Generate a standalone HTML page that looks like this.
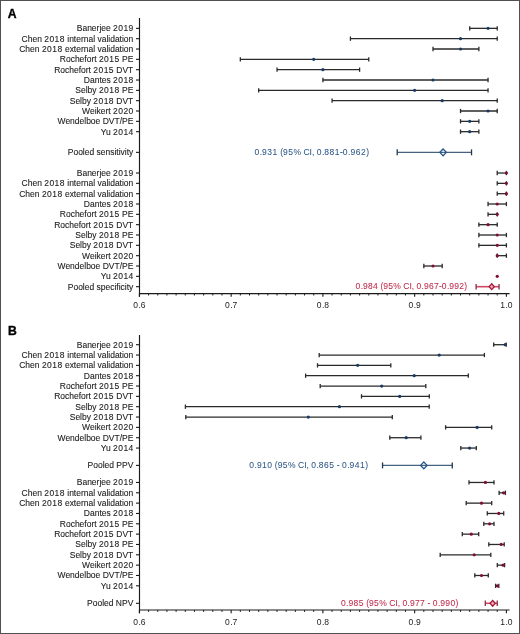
<!DOCTYPE html>
<html><head><meta charset="utf-8"><title>Forest plot</title>
<style>
html,body{margin:0;padding:0;background:#fff;}
body{width:520px;height:634px;overflow:hidden;}
svg{display:block;will-change:transform;}
svg text{font-family:"Liberation Sans", sans-serif;}
</style></head>
<body>
<svg width="520" height="634" viewBox="0 0 520 634">
<rect x="0" y="0" width="520" height="634" fill="#fff"/>
<rect x="0.5" y="0.5" width="519" height="633" fill="none" stroke="#505050" stroke-width="1"/>
<text x="7.75" y="17.75" font-size="12.2" font-weight="bold" fill="#000" stroke="#000" stroke-width="0.35">A</text>
<line x1="139.5" y1="18.00" x2="139.5" y2="296.80" stroke="#1a1a1a" stroke-width="1.15"/>
<line x1="139" y1="293.60" x2="509.6" y2="293.60" stroke="#1a1a1a" stroke-width="1.2"/>
<line x1="139.40" y1="293.60" x2="139.40" y2="296.80" stroke="#1a1a1a" stroke-width="1.1"/>
<text x="139.62" y="308.20" text-anchor="middle" font-size="8.5" fill="#222"><tspan letter-spacing="0.45">0</tspan>.<tspan letter-spacing="0.45">6</tspan></text>
<line x1="148.58" y1="293.60" x2="148.58" y2="295.50" stroke="#1a1a1a" stroke-width="1"/>
<line x1="157.75" y1="293.60" x2="157.75" y2="295.50" stroke="#1a1a1a" stroke-width="1"/>
<line x1="166.93" y1="293.60" x2="166.93" y2="295.50" stroke="#1a1a1a" stroke-width="1"/>
<line x1="176.10" y1="293.60" x2="176.10" y2="295.50" stroke="#1a1a1a" stroke-width="1"/>
<line x1="185.28" y1="293.60" x2="185.28" y2="295.50" stroke="#1a1a1a" stroke-width="1"/>
<line x1="194.45" y1="293.60" x2="194.45" y2="295.50" stroke="#1a1a1a" stroke-width="1"/>
<line x1="203.62" y1="293.60" x2="203.62" y2="295.50" stroke="#1a1a1a" stroke-width="1"/>
<line x1="212.80" y1="293.60" x2="212.80" y2="295.50" stroke="#1a1a1a" stroke-width="1"/>
<line x1="221.97" y1="293.60" x2="221.97" y2="295.50" stroke="#1a1a1a" stroke-width="1"/>
<line x1="231.15" y1="293.60" x2="231.15" y2="296.80" stroke="#1a1a1a" stroke-width="1.1"/>
<text x="231.37" y="308.20" text-anchor="middle" font-size="8.5" fill="#222"><tspan letter-spacing="0.45">0</tspan>.<tspan letter-spacing="0.45">7</tspan></text>
<line x1="240.32" y1="293.60" x2="240.32" y2="295.50" stroke="#1a1a1a" stroke-width="1"/>
<line x1="249.50" y1="293.60" x2="249.50" y2="295.50" stroke="#1a1a1a" stroke-width="1"/>
<line x1="258.68" y1="293.60" x2="258.68" y2="295.50" stroke="#1a1a1a" stroke-width="1"/>
<line x1="267.85" y1="293.60" x2="267.85" y2="295.50" stroke="#1a1a1a" stroke-width="1"/>
<line x1="277.03" y1="293.60" x2="277.03" y2="295.50" stroke="#1a1a1a" stroke-width="1"/>
<line x1="286.20" y1="293.60" x2="286.20" y2="295.50" stroke="#1a1a1a" stroke-width="1"/>
<line x1="295.38" y1="293.60" x2="295.38" y2="295.50" stroke="#1a1a1a" stroke-width="1"/>
<line x1="304.55" y1="293.60" x2="304.55" y2="295.50" stroke="#1a1a1a" stroke-width="1"/>
<line x1="313.73" y1="293.60" x2="313.73" y2="295.50" stroke="#1a1a1a" stroke-width="1"/>
<line x1="322.90" y1="293.60" x2="322.90" y2="296.80" stroke="#1a1a1a" stroke-width="1.1"/>
<text x="323.13" y="308.20" text-anchor="middle" font-size="8.5" fill="#222"><tspan letter-spacing="0.45">0</tspan>.<tspan letter-spacing="0.45">8</tspan></text>
<line x1="332.07" y1="293.60" x2="332.07" y2="295.50" stroke="#1a1a1a" stroke-width="1"/>
<line x1="341.25" y1="293.60" x2="341.25" y2="295.50" stroke="#1a1a1a" stroke-width="1"/>
<line x1="350.42" y1="293.60" x2="350.42" y2="295.50" stroke="#1a1a1a" stroke-width="1"/>
<line x1="359.60" y1="293.60" x2="359.60" y2="295.50" stroke="#1a1a1a" stroke-width="1"/>
<line x1="368.77" y1="293.60" x2="368.77" y2="295.50" stroke="#1a1a1a" stroke-width="1"/>
<line x1="377.95" y1="293.60" x2="377.95" y2="295.50" stroke="#1a1a1a" stroke-width="1"/>
<line x1="387.12" y1="293.60" x2="387.12" y2="295.50" stroke="#1a1a1a" stroke-width="1"/>
<line x1="396.30" y1="293.60" x2="396.30" y2="295.50" stroke="#1a1a1a" stroke-width="1"/>
<line x1="405.47" y1="293.60" x2="405.47" y2="295.50" stroke="#1a1a1a" stroke-width="1"/>
<line x1="414.65" y1="293.60" x2="414.65" y2="296.80" stroke="#1a1a1a" stroke-width="1.1"/>
<text x="414.88" y="308.20" text-anchor="middle" font-size="8.5" fill="#222"><tspan letter-spacing="0.45">0</tspan>.<tspan letter-spacing="0.45">9</tspan></text>
<line x1="423.82" y1="293.60" x2="423.82" y2="295.50" stroke="#1a1a1a" stroke-width="1"/>
<line x1="433.00" y1="293.60" x2="433.00" y2="295.50" stroke="#1a1a1a" stroke-width="1"/>
<line x1="442.17" y1="293.60" x2="442.17" y2="295.50" stroke="#1a1a1a" stroke-width="1"/>
<line x1="451.35" y1="293.60" x2="451.35" y2="295.50" stroke="#1a1a1a" stroke-width="1"/>
<line x1="460.52" y1="293.60" x2="460.52" y2="295.50" stroke="#1a1a1a" stroke-width="1"/>
<line x1="469.70" y1="293.60" x2="469.70" y2="295.50" stroke="#1a1a1a" stroke-width="1"/>
<line x1="478.88" y1="293.60" x2="478.88" y2="295.50" stroke="#1a1a1a" stroke-width="1"/>
<line x1="488.05" y1="293.60" x2="488.05" y2="295.50" stroke="#1a1a1a" stroke-width="1"/>
<line x1="497.23" y1="293.60" x2="497.23" y2="295.50" stroke="#1a1a1a" stroke-width="1"/>
<line x1="506.40" y1="293.60" x2="506.40" y2="296.80" stroke="#1a1a1a" stroke-width="1.1"/>
<text x="506.62" y="308.20" text-anchor="middle" font-size="8.5" fill="#222"><tspan letter-spacing="0.45">1</tspan>.<tspan letter-spacing="0.45">0</tspan></text>
<text transform="translate(133.75 31.35) scale(1 1.08)" text-anchor="end" font-size="8.5" fill="#222" stroke="#222" stroke-width="0.1">Banerjee <tspan letter-spacing="0.45">2019</tspan></text>
<line x1="136" y1="28.35" x2="139.5" y2="28.35" stroke="#1a1a1a" stroke-width="1.1"/>
<line x1="469.70" y1="28.35" x2="497.23" y2="28.35" stroke="#2a2a2a" stroke-width="1.3"/>
<line x1="469.70" y1="26.20" x2="469.70" y2="30.50" stroke="#2a2a2a" stroke-width="1.3"/>
<line x1="497.23" y1="26.20" x2="497.23" y2="30.50" stroke="#2a2a2a" stroke-width="1.3"/>
<circle cx="488.05" cy="28.35" r="1.6" fill="#173a66"/>
<text transform="translate(133.30 41.68) scale(1 1.08)" text-anchor="end" font-size="8.5" fill="#222" stroke="#222" stroke-width="0.1">Chen <tspan letter-spacing="0.45">2018</tspan> internal validation</text>
<line x1="136" y1="38.68" x2="139.5" y2="38.68" stroke="#1a1a1a" stroke-width="1.1"/>
<line x1="350.42" y1="38.68" x2="497.23" y2="38.68" stroke="#2a2a2a" stroke-width="1.3"/>
<line x1="350.42" y1="36.53" x2="350.42" y2="40.83" stroke="#2a2a2a" stroke-width="1.3"/>
<line x1="497.23" y1="36.53" x2="497.23" y2="40.83" stroke="#2a2a2a" stroke-width="1.3"/>
<circle cx="460.52" cy="38.68" r="1.6" fill="#173a66"/>
<text transform="translate(133.30 52.02) scale(1 1.08)" text-anchor="end" font-size="8.5" fill="#222" stroke="#222" stroke-width="0.1">Chen <tspan letter-spacing="0.45">2018</tspan> external validation</text>
<line x1="136" y1="49.02" x2="139.5" y2="49.02" stroke="#1a1a1a" stroke-width="1.1"/>
<line x1="433.00" y1="49.02" x2="478.88" y2="49.02" stroke="#2a2a2a" stroke-width="1.3"/>
<line x1="433.00" y1="46.87" x2="433.00" y2="51.17" stroke="#2a2a2a" stroke-width="1.3"/>
<line x1="478.88" y1="46.87" x2="478.88" y2="51.17" stroke="#2a2a2a" stroke-width="1.3"/>
<circle cx="460.52" cy="49.02" r="1.6" fill="#173a66"/>
<text transform="translate(133.30 62.35) scale(1 1.08)" text-anchor="end" font-size="8.5" fill="#222" stroke="#222" stroke-width="0.1">Rochefort <tspan letter-spacing="0.45">2015</tspan> PE</text>
<line x1="136" y1="59.35" x2="139.5" y2="59.35" stroke="#1a1a1a" stroke-width="1.1"/>
<line x1="240.32" y1="59.35" x2="368.77" y2="59.35" stroke="#2a2a2a" stroke-width="1.3"/>
<line x1="240.32" y1="57.20" x2="240.32" y2="61.50" stroke="#2a2a2a" stroke-width="1.3"/>
<line x1="368.77" y1="57.20" x2="368.77" y2="61.50" stroke="#2a2a2a" stroke-width="1.3"/>
<circle cx="313.73" cy="59.35" r="1.6" fill="#173a66"/>
<text transform="translate(133.30 72.68) scale(1 1.08)" text-anchor="end" font-size="8.5" fill="#222" stroke="#222" stroke-width="0.1">Rochefort <tspan letter-spacing="0.45">2015</tspan> DVT</text>
<line x1="136" y1="69.68" x2="139.5" y2="69.68" stroke="#1a1a1a" stroke-width="1.1"/>
<line x1="277.03" y1="69.68" x2="359.60" y2="69.68" stroke="#2a2a2a" stroke-width="1.3"/>
<line x1="277.03" y1="67.53" x2="277.03" y2="71.83" stroke="#2a2a2a" stroke-width="1.3"/>
<line x1="359.60" y1="67.53" x2="359.60" y2="71.83" stroke="#2a2a2a" stroke-width="1.3"/>
<circle cx="322.90" cy="69.68" r="1.6" fill="#173a66"/>
<text transform="translate(133.75 83.02) scale(1 1.08)" text-anchor="end" font-size="8.5" fill="#222" stroke="#222" stroke-width="0.1">Dantes <tspan letter-spacing="0.45">2018</tspan></text>
<line x1="136" y1="80.02" x2="139.5" y2="80.02" stroke="#1a1a1a" stroke-width="1.1"/>
<line x1="322.90" y1="80.02" x2="488.05" y2="80.02" stroke="#2a2a2a" stroke-width="1.3"/>
<line x1="322.90" y1="77.86" x2="322.90" y2="82.17" stroke="#2a2a2a" stroke-width="1.3"/>
<line x1="488.05" y1="77.86" x2="488.05" y2="82.17" stroke="#2a2a2a" stroke-width="1.3"/>
<circle cx="433.00" cy="80.02" r="1.6" fill="#173a66"/>
<text transform="translate(133.30 93.35) scale(1 1.08)" text-anchor="end" font-size="8.5" fill="#222" stroke="#222" stroke-width="0.1">Selby <tspan letter-spacing="0.45">2018</tspan> PE</text>
<line x1="136" y1="90.35" x2="139.5" y2="90.35" stroke="#1a1a1a" stroke-width="1.1"/>
<line x1="258.68" y1="90.35" x2="488.05" y2="90.35" stroke="#2a2a2a" stroke-width="1.3"/>
<line x1="258.68" y1="88.20" x2="258.68" y2="92.50" stroke="#2a2a2a" stroke-width="1.3"/>
<line x1="488.05" y1="88.20" x2="488.05" y2="92.50" stroke="#2a2a2a" stroke-width="1.3"/>
<circle cx="414.65" cy="90.35" r="1.6" fill="#173a66"/>
<text transform="translate(133.30 103.68) scale(1 1.08)" text-anchor="end" font-size="8.5" fill="#222" stroke="#222" stroke-width="0.1">Selby <tspan letter-spacing="0.45">2018</tspan> DVT</text>
<line x1="136" y1="100.68" x2="139.5" y2="100.68" stroke="#1a1a1a" stroke-width="1.1"/>
<line x1="332.08" y1="100.68" x2="497.23" y2="100.68" stroke="#2a2a2a" stroke-width="1.3"/>
<line x1="332.08" y1="98.53" x2="332.08" y2="102.83" stroke="#2a2a2a" stroke-width="1.3"/>
<line x1="497.23" y1="98.53" x2="497.23" y2="102.83" stroke="#2a2a2a" stroke-width="1.3"/>
<circle cx="442.18" cy="100.68" r="1.6" fill="#173a66"/>
<text transform="translate(133.75 114.01) scale(1 1.08)" text-anchor="end" font-size="8.5" fill="#222" stroke="#222" stroke-width="0.1">Weikert <tspan letter-spacing="0.45">2020</tspan></text>
<line x1="136" y1="111.01" x2="139.5" y2="111.01" stroke="#1a1a1a" stroke-width="1.1"/>
<line x1="460.52" y1="111.01" x2="497.23" y2="111.01" stroke="#2a2a2a" stroke-width="1.3"/>
<line x1="460.52" y1="108.86" x2="460.52" y2="113.16" stroke="#2a2a2a" stroke-width="1.3"/>
<line x1="497.23" y1="108.86" x2="497.23" y2="113.16" stroke="#2a2a2a" stroke-width="1.3"/>
<circle cx="488.05" cy="111.01" r="1.6" fill="#173a66"/>
<text transform="translate(133.30 124.35) scale(1 1.08)" text-anchor="end" font-size="8.5" fill="#222" stroke="#222" stroke-width="0.1">Wendelboe DVT/PE</text>
<line x1="136" y1="121.35" x2="139.5" y2="121.35" stroke="#1a1a1a" stroke-width="1.1"/>
<line x1="460.52" y1="121.35" x2="478.88" y2="121.35" stroke="#2a2a2a" stroke-width="1.3"/>
<line x1="460.52" y1="119.20" x2="460.52" y2="123.50" stroke="#2a2a2a" stroke-width="1.3"/>
<line x1="478.88" y1="119.20" x2="478.88" y2="123.50" stroke="#2a2a2a" stroke-width="1.3"/>
<circle cx="469.70" cy="121.35" r="1.6" fill="#173a66"/>
<text transform="translate(133.75 134.68) scale(1 1.08)" text-anchor="end" font-size="8.5" fill="#222" stroke="#222" stroke-width="0.1">Yu <tspan letter-spacing="0.45">2014</tspan></text>
<line x1="136" y1="131.68" x2="139.5" y2="131.68" stroke="#1a1a1a" stroke-width="1.1"/>
<line x1="460.52" y1="131.68" x2="478.88" y2="131.68" stroke="#2a2a2a" stroke-width="1.3"/>
<line x1="460.52" y1="129.53" x2="460.52" y2="133.83" stroke="#2a2a2a" stroke-width="1.3"/>
<line x1="478.88" y1="129.53" x2="478.88" y2="133.83" stroke="#2a2a2a" stroke-width="1.3"/>
<circle cx="469.70" cy="131.68" r="1.6" fill="#173a66"/>
<text transform="translate(133.30 155.35) scale(1 1.08)" text-anchor="end" font-size="8.5" fill="#222" stroke="#222" stroke-width="0.1">Pooled sensitivity</text>
<line x1="136" y1="152.35" x2="139.5" y2="152.35" stroke="#1a1a1a" stroke-width="1.1"/>
<line x1="397.22" y1="152.35" x2="471.53" y2="152.35" stroke="#45627f" stroke-width="1.1"/>
<line x1="397.22" y1="149.35" x2="397.22" y2="155.35" stroke="#22384f" stroke-width="1.3"/>
<line x1="471.53" y1="149.35" x2="471.53" y2="155.35" stroke="#22384f" stroke-width="1.3"/>
<path d="M443.09 148.95 L446.39 152.35 L443.09 155.75 L439.79 152.35 Z" fill="none" stroke="#26568a" stroke-width="1.25"/>
<text x="254.40" y="154.85" fill="#2d5888" stroke="#2d5888" stroke-width="0.05" font-size="8.5"><tspan letter-spacing="0.52">0</tspan>.<tspan letter-spacing="0.52">931</tspan> (<tspan letter-spacing="0.52">95</tspan>% CI, <tspan letter-spacing="0.52">0</tspan>.<tspan letter-spacing="0.52">881</tspan>-<tspan letter-spacing="0.52">0</tspan>.<tspan letter-spacing="0.52">962</tspan>)</text>
<text transform="translate(133.75 176.01) scale(1 1.08)" text-anchor="end" font-size="8.5" fill="#222" stroke="#222" stroke-width="0.1">Banerjee <tspan letter-spacing="0.45">2019</tspan></text>
<line x1="136" y1="173.01" x2="139.5" y2="173.01" stroke="#1a1a1a" stroke-width="1.1"/>
<line x1="497.23" y1="173.01" x2="506.40" y2="173.01" stroke="#2a2a2a" stroke-width="1.3"/>
<line x1="497.23" y1="170.86" x2="497.23" y2="175.16" stroke="#2a2a2a" stroke-width="1.3"/>
<line x1="506.40" y1="170.86" x2="506.40" y2="175.16" stroke="#2a2a2a" stroke-width="1.3"/>
<circle cx="506.40" cy="173.01" r="1.6" fill="#800e34"/>
<text transform="translate(133.30 186.34) scale(1 1.08)" text-anchor="end" font-size="8.5" fill="#222" stroke="#222" stroke-width="0.1">Chen <tspan letter-spacing="0.45">2018</tspan> internal validation</text>
<line x1="136" y1="183.34" x2="139.5" y2="183.34" stroke="#1a1a1a" stroke-width="1.1"/>
<line x1="497.23" y1="183.34" x2="506.40" y2="183.34" stroke="#2a2a2a" stroke-width="1.3"/>
<line x1="497.23" y1="181.19" x2="497.23" y2="185.50" stroke="#2a2a2a" stroke-width="1.3"/>
<line x1="506.40" y1="181.19" x2="506.40" y2="185.50" stroke="#2a2a2a" stroke-width="1.3"/>
<circle cx="506.40" cy="183.34" r="1.6" fill="#800e34"/>
<text transform="translate(133.30 196.68) scale(1 1.08)" text-anchor="end" font-size="8.5" fill="#222" stroke="#222" stroke-width="0.1">Chen <tspan letter-spacing="0.45">2018</tspan> external validation</text>
<line x1="136" y1="193.68" x2="139.5" y2="193.68" stroke="#1a1a1a" stroke-width="1.1"/>
<line x1="497.23" y1="193.68" x2="506.40" y2="193.68" stroke="#2a2a2a" stroke-width="1.3"/>
<line x1="497.23" y1="191.53" x2="497.23" y2="195.83" stroke="#2a2a2a" stroke-width="1.3"/>
<line x1="506.40" y1="191.53" x2="506.40" y2="195.83" stroke="#2a2a2a" stroke-width="1.3"/>
<circle cx="506.40" cy="193.68" r="1.6" fill="#800e34"/>
<text transform="translate(133.75 207.01) scale(1 1.08)" text-anchor="end" font-size="8.5" fill="#222" stroke="#222" stroke-width="0.1">Dantes <tspan letter-spacing="0.45">2018</tspan></text>
<line x1="136" y1="204.01" x2="139.5" y2="204.01" stroke="#1a1a1a" stroke-width="1.1"/>
<line x1="488.05" y1="204.01" x2="506.40" y2="204.01" stroke="#2a2a2a" stroke-width="1.3"/>
<line x1="488.05" y1="201.86" x2="488.05" y2="206.16" stroke="#2a2a2a" stroke-width="1.3"/>
<line x1="506.40" y1="201.86" x2="506.40" y2="206.16" stroke="#2a2a2a" stroke-width="1.3"/>
<circle cx="497.23" cy="204.01" r="1.6" fill="#800e34"/>
<text transform="translate(133.30 217.34) scale(1 1.08)" text-anchor="end" font-size="8.5" fill="#222" stroke="#222" stroke-width="0.1">Rochefort <tspan letter-spacing="0.45">2015</tspan> PE</text>
<line x1="136" y1="214.34" x2="139.5" y2="214.34" stroke="#1a1a1a" stroke-width="1.1"/>
<line x1="488.05" y1="214.34" x2="497.23" y2="214.34" stroke="#2a2a2a" stroke-width="1.3"/>
<line x1="488.05" y1="212.19" x2="488.05" y2="216.49" stroke="#2a2a2a" stroke-width="1.3"/>
<line x1="497.23" y1="212.19" x2="497.23" y2="216.49" stroke="#2a2a2a" stroke-width="1.3"/>
<circle cx="497.23" cy="214.34" r="1.6" fill="#800e34"/>
<text transform="translate(133.30 227.68) scale(1 1.08)" text-anchor="end" font-size="8.5" fill="#222" stroke="#222" stroke-width="0.1">Rochefort <tspan letter-spacing="0.45">2015</tspan> DVT</text>
<line x1="136" y1="224.68" x2="139.5" y2="224.68" stroke="#1a1a1a" stroke-width="1.1"/>
<line x1="478.88" y1="224.68" x2="497.23" y2="224.68" stroke="#2a2a2a" stroke-width="1.3"/>
<line x1="478.88" y1="222.53" x2="478.88" y2="226.83" stroke="#2a2a2a" stroke-width="1.3"/>
<line x1="497.23" y1="222.53" x2="497.23" y2="226.83" stroke="#2a2a2a" stroke-width="1.3"/>
<circle cx="488.05" cy="224.68" r="1.6" fill="#800e34"/>
<text transform="translate(133.30 238.01) scale(1 1.08)" text-anchor="end" font-size="8.5" fill="#222" stroke="#222" stroke-width="0.1">Selby <tspan letter-spacing="0.45">2018</tspan> PE</text>
<line x1="136" y1="235.01" x2="139.5" y2="235.01" stroke="#1a1a1a" stroke-width="1.1"/>
<line x1="478.88" y1="235.01" x2="506.40" y2="235.01" stroke="#2a2a2a" stroke-width="1.3"/>
<line x1="478.88" y1="232.86" x2="478.88" y2="237.16" stroke="#2a2a2a" stroke-width="1.3"/>
<line x1="506.40" y1="232.86" x2="506.40" y2="237.16" stroke="#2a2a2a" stroke-width="1.3"/>
<circle cx="497.23" cy="235.01" r="1.6" fill="#800e34"/>
<text transform="translate(133.30 248.34) scale(1 1.08)" text-anchor="end" font-size="8.5" fill="#222" stroke="#222" stroke-width="0.1">Selby <tspan letter-spacing="0.45">2018</tspan> DVT</text>
<line x1="136" y1="245.34" x2="139.5" y2="245.34" stroke="#1a1a1a" stroke-width="1.1"/>
<line x1="478.88" y1="245.34" x2="506.40" y2="245.34" stroke="#2a2a2a" stroke-width="1.3"/>
<line x1="478.88" y1="243.19" x2="478.88" y2="247.49" stroke="#2a2a2a" stroke-width="1.3"/>
<line x1="506.40" y1="243.19" x2="506.40" y2="247.49" stroke="#2a2a2a" stroke-width="1.3"/>
<circle cx="497.23" cy="245.34" r="1.6" fill="#800e34"/>
<text transform="translate(133.75 258.68) scale(1 1.08)" text-anchor="end" font-size="8.5" fill="#222" stroke="#222" stroke-width="0.1">Weikert <tspan letter-spacing="0.45">2020</tspan></text>
<line x1="136" y1="255.68" x2="139.5" y2="255.68" stroke="#1a1a1a" stroke-width="1.1"/>
<line x1="497.23" y1="255.68" x2="506.40" y2="255.68" stroke="#2a2a2a" stroke-width="1.3"/>
<line x1="497.23" y1="253.53" x2="497.23" y2="257.83" stroke="#2a2a2a" stroke-width="1.3"/>
<line x1="506.40" y1="253.53" x2="506.40" y2="257.83" stroke="#2a2a2a" stroke-width="1.3"/>
<circle cx="497.23" cy="255.68" r="1.6" fill="#800e34"/>
<text transform="translate(133.30 269.01) scale(1 1.08)" text-anchor="end" font-size="8.5" fill="#222" stroke="#222" stroke-width="0.1">Wendelboe DVT/PE</text>
<line x1="136" y1="266.01" x2="139.5" y2="266.01" stroke="#1a1a1a" stroke-width="1.1"/>
<line x1="423.83" y1="266.01" x2="442.18" y2="266.01" stroke="#2a2a2a" stroke-width="1.3"/>
<line x1="423.83" y1="263.86" x2="423.83" y2="268.16" stroke="#2a2a2a" stroke-width="1.3"/>
<line x1="442.18" y1="263.86" x2="442.18" y2="268.16" stroke="#2a2a2a" stroke-width="1.3"/>
<circle cx="433.00" cy="266.01" r="1.6" fill="#800e34"/>
<text transform="translate(133.75 279.34) scale(1 1.08)" text-anchor="end" font-size="8.5" fill="#222" stroke="#222" stroke-width="0.1">Yu <tspan letter-spacing="0.45">2014</tspan></text>
<line x1="136" y1="276.34" x2="139.5" y2="276.34" stroke="#1a1a1a" stroke-width="1.1"/>
<circle cx="497.23" cy="276.34" r="1.6" fill="#800e34"/>
<text transform="translate(133.30 289.68) scale(1 1.08)" text-anchor="end" font-size="8.5" fill="#222" stroke="#222" stroke-width="0.1">Pooled specificity</text>
<line x1="136" y1="286.68" x2="139.5" y2="286.68" stroke="#1a1a1a" stroke-width="1.1"/>
<line x1="476.12" y1="286.68" x2="499.06" y2="286.68" stroke="#d04868" stroke-width="1.6"/>
<line x1="476.12" y1="283.88" x2="476.12" y2="289.48" stroke="#8e2a44" stroke-width="1.3"/>
<line x1="499.06" y1="283.88" x2="499.06" y2="289.48" stroke="#8e2a44" stroke-width="1.3"/>
<path d="M491.72 283.78 L494.32 286.68 L491.72 289.57 L489.12 286.68 Z" fill="#f0a4b4" stroke="#a01838" stroke-width="1.25"/>
<text x="355.60" y="289.18" fill="#c02a4a" stroke="#c02a4a" stroke-width="0.05" font-size="8.5"><tspan letter-spacing="0.3">0</tspan>.<tspan letter-spacing="0.3">984</tspan> (<tspan letter-spacing="0.3">95</tspan>% CI, <tspan letter-spacing="0.3">0</tspan>.<tspan letter-spacing="0.3">967</tspan>-<tspan letter-spacing="0.3">0</tspan>.<tspan letter-spacing="0.3">992</tspan>)</text>
<text x="7.9" y="334.5" font-size="12.2" font-weight="bold" fill="#000" stroke="#000" stroke-width="0.35">B</text>
<line x1="139.5" y1="334.90" x2="139.5" y2="613.20" stroke="#1a1a1a" stroke-width="1.15"/>
<line x1="139" y1="610.00" x2="509.6" y2="610.00" stroke="#1a1a1a" stroke-width="1.2"/>
<line x1="139.40" y1="610.00" x2="139.40" y2="613.20" stroke="#1a1a1a" stroke-width="1.1"/>
<text x="139.62" y="624.60" text-anchor="middle" font-size="8.5" fill="#222"><tspan letter-spacing="0.45">0</tspan>.<tspan letter-spacing="0.45">6</tspan></text>
<line x1="148.58" y1="610.00" x2="148.58" y2="611.90" stroke="#1a1a1a" stroke-width="1"/>
<line x1="157.75" y1="610.00" x2="157.75" y2="611.90" stroke="#1a1a1a" stroke-width="1"/>
<line x1="166.93" y1="610.00" x2="166.93" y2="611.90" stroke="#1a1a1a" stroke-width="1"/>
<line x1="176.10" y1="610.00" x2="176.10" y2="611.90" stroke="#1a1a1a" stroke-width="1"/>
<line x1="185.28" y1="610.00" x2="185.28" y2="611.90" stroke="#1a1a1a" stroke-width="1"/>
<line x1="194.45" y1="610.00" x2="194.45" y2="611.90" stroke="#1a1a1a" stroke-width="1"/>
<line x1="203.62" y1="610.00" x2="203.62" y2="611.90" stroke="#1a1a1a" stroke-width="1"/>
<line x1="212.80" y1="610.00" x2="212.80" y2="611.90" stroke="#1a1a1a" stroke-width="1"/>
<line x1="221.97" y1="610.00" x2="221.97" y2="611.90" stroke="#1a1a1a" stroke-width="1"/>
<line x1="231.15" y1="610.00" x2="231.15" y2="613.20" stroke="#1a1a1a" stroke-width="1.1"/>
<text x="231.37" y="624.60" text-anchor="middle" font-size="8.5" fill="#222"><tspan letter-spacing="0.45">0</tspan>.<tspan letter-spacing="0.45">7</tspan></text>
<line x1="240.32" y1="610.00" x2="240.32" y2="611.90" stroke="#1a1a1a" stroke-width="1"/>
<line x1="249.50" y1="610.00" x2="249.50" y2="611.90" stroke="#1a1a1a" stroke-width="1"/>
<line x1="258.68" y1="610.00" x2="258.68" y2="611.90" stroke="#1a1a1a" stroke-width="1"/>
<line x1="267.85" y1="610.00" x2="267.85" y2="611.90" stroke="#1a1a1a" stroke-width="1"/>
<line x1="277.03" y1="610.00" x2="277.03" y2="611.90" stroke="#1a1a1a" stroke-width="1"/>
<line x1="286.20" y1="610.00" x2="286.20" y2="611.90" stroke="#1a1a1a" stroke-width="1"/>
<line x1="295.38" y1="610.00" x2="295.38" y2="611.90" stroke="#1a1a1a" stroke-width="1"/>
<line x1="304.55" y1="610.00" x2="304.55" y2="611.90" stroke="#1a1a1a" stroke-width="1"/>
<line x1="313.73" y1="610.00" x2="313.73" y2="611.90" stroke="#1a1a1a" stroke-width="1"/>
<line x1="322.90" y1="610.00" x2="322.90" y2="613.20" stroke="#1a1a1a" stroke-width="1.1"/>
<text x="323.13" y="624.60" text-anchor="middle" font-size="8.5" fill="#222"><tspan letter-spacing="0.45">0</tspan>.<tspan letter-spacing="0.45">8</tspan></text>
<line x1="332.07" y1="610.00" x2="332.07" y2="611.90" stroke="#1a1a1a" stroke-width="1"/>
<line x1="341.25" y1="610.00" x2="341.25" y2="611.90" stroke="#1a1a1a" stroke-width="1"/>
<line x1="350.42" y1="610.00" x2="350.42" y2="611.90" stroke="#1a1a1a" stroke-width="1"/>
<line x1="359.60" y1="610.00" x2="359.60" y2="611.90" stroke="#1a1a1a" stroke-width="1"/>
<line x1="368.77" y1="610.00" x2="368.77" y2="611.90" stroke="#1a1a1a" stroke-width="1"/>
<line x1="377.95" y1="610.00" x2="377.95" y2="611.90" stroke="#1a1a1a" stroke-width="1"/>
<line x1="387.12" y1="610.00" x2="387.12" y2="611.90" stroke="#1a1a1a" stroke-width="1"/>
<line x1="396.30" y1="610.00" x2="396.30" y2="611.90" stroke="#1a1a1a" stroke-width="1"/>
<line x1="405.47" y1="610.00" x2="405.47" y2="611.90" stroke="#1a1a1a" stroke-width="1"/>
<line x1="414.65" y1="610.00" x2="414.65" y2="613.20" stroke="#1a1a1a" stroke-width="1.1"/>
<text x="414.88" y="624.60" text-anchor="middle" font-size="8.5" fill="#222"><tspan letter-spacing="0.45">0</tspan>.<tspan letter-spacing="0.45">9</tspan></text>
<line x1="423.82" y1="610.00" x2="423.82" y2="611.90" stroke="#1a1a1a" stroke-width="1"/>
<line x1="433.00" y1="610.00" x2="433.00" y2="611.90" stroke="#1a1a1a" stroke-width="1"/>
<line x1="442.17" y1="610.00" x2="442.17" y2="611.90" stroke="#1a1a1a" stroke-width="1"/>
<line x1="451.35" y1="610.00" x2="451.35" y2="611.90" stroke="#1a1a1a" stroke-width="1"/>
<line x1="460.52" y1="610.00" x2="460.52" y2="611.90" stroke="#1a1a1a" stroke-width="1"/>
<line x1="469.70" y1="610.00" x2="469.70" y2="611.90" stroke="#1a1a1a" stroke-width="1"/>
<line x1="478.88" y1="610.00" x2="478.88" y2="611.90" stroke="#1a1a1a" stroke-width="1"/>
<line x1="488.05" y1="610.00" x2="488.05" y2="611.90" stroke="#1a1a1a" stroke-width="1"/>
<line x1="497.23" y1="610.00" x2="497.23" y2="611.90" stroke="#1a1a1a" stroke-width="1"/>
<line x1="506.40" y1="610.00" x2="506.40" y2="613.20" stroke="#1a1a1a" stroke-width="1.1"/>
<text x="506.62" y="624.60" text-anchor="middle" font-size="8.5" fill="#222"><tspan letter-spacing="0.45">1</tspan>.<tspan letter-spacing="0.45">0</tspan></text>
<text transform="translate(133.75 347.70) scale(1 1.08)" text-anchor="end" font-size="8.5" fill="#222" stroke="#222" stroke-width="0.1">Banerjee <tspan letter-spacing="0.45">2019</tspan></text>
<line x1="136" y1="344.70" x2="139.5" y2="344.70" stroke="#1a1a1a" stroke-width="1.1"/>
<line x1="493.70" y1="344.70" x2="506.20" y2="344.70" stroke="#2a2a2a" stroke-width="1.3"/>
<line x1="493.70" y1="342.55" x2="493.70" y2="346.85" stroke="#2a2a2a" stroke-width="1.3"/>
<line x1="506.20" y1="342.55" x2="506.20" y2="346.85" stroke="#2a2a2a" stroke-width="1.3"/>
<circle cx="505.20" cy="344.70" r="1.6" fill="#173a66"/>
<text transform="translate(133.30 358.03) scale(1 1.08)" text-anchor="end" font-size="8.5" fill="#222" stroke="#222" stroke-width="0.1">Chen <tspan letter-spacing="0.45">2018</tspan> internal validation</text>
<line x1="136" y1="355.03" x2="139.5" y2="355.03" stroke="#1a1a1a" stroke-width="1.1"/>
<line x1="319.20" y1="355.03" x2="484.40" y2="355.03" stroke="#2a2a2a" stroke-width="1.3"/>
<line x1="319.20" y1="352.88" x2="319.20" y2="357.18" stroke="#2a2a2a" stroke-width="1.3"/>
<line x1="484.40" y1="352.88" x2="484.40" y2="357.18" stroke="#2a2a2a" stroke-width="1.3"/>
<circle cx="439.20" cy="355.03" r="1.6" fill="#173a66"/>
<text transform="translate(133.30 368.37) scale(1 1.08)" text-anchor="end" font-size="8.5" fill="#222" stroke="#222" stroke-width="0.1">Chen <tspan letter-spacing="0.45">2018</tspan> external validation</text>
<line x1="136" y1="365.37" x2="139.5" y2="365.37" stroke="#1a1a1a" stroke-width="1.1"/>
<line x1="317.50" y1="365.37" x2="390.80" y2="365.37" stroke="#2a2a2a" stroke-width="1.3"/>
<line x1="317.50" y1="363.22" x2="317.50" y2="367.52" stroke="#2a2a2a" stroke-width="1.3"/>
<line x1="390.80" y1="363.22" x2="390.80" y2="367.52" stroke="#2a2a2a" stroke-width="1.3"/>
<circle cx="357.70" cy="365.37" r="1.6" fill="#173a66"/>
<text transform="translate(133.75 378.70) scale(1 1.08)" text-anchor="end" font-size="8.5" fill="#222" stroke="#222" stroke-width="0.1">Dantes <tspan letter-spacing="0.45">2018</tspan></text>
<line x1="136" y1="375.70" x2="139.5" y2="375.70" stroke="#1a1a1a" stroke-width="1.1"/>
<line x1="305.60" y1="375.70" x2="468.30" y2="375.70" stroke="#2a2a2a" stroke-width="1.3"/>
<line x1="305.60" y1="373.56" x2="305.60" y2="377.85" stroke="#2a2a2a" stroke-width="1.3"/>
<line x1="468.30" y1="373.56" x2="468.30" y2="377.85" stroke="#2a2a2a" stroke-width="1.3"/>
<circle cx="414.20" cy="375.70" r="1.6" fill="#173a66"/>
<text transform="translate(133.30 389.04) scale(1 1.08)" text-anchor="end" font-size="8.5" fill="#222" stroke="#222" stroke-width="0.1">Rochefort <tspan letter-spacing="0.45">2015</tspan> PE</text>
<line x1="136" y1="386.04" x2="139.5" y2="386.04" stroke="#1a1a1a" stroke-width="1.1"/>
<line x1="320.20" y1="386.04" x2="425.80" y2="386.04" stroke="#2a2a2a" stroke-width="1.3"/>
<line x1="320.20" y1="383.89" x2="320.20" y2="388.19" stroke="#2a2a2a" stroke-width="1.3"/>
<line x1="425.80" y1="383.89" x2="425.80" y2="388.19" stroke="#2a2a2a" stroke-width="1.3"/>
<circle cx="381.70" cy="386.04" r="1.6" fill="#173a66"/>
<text transform="translate(133.30 399.38) scale(1 1.08)" text-anchor="end" font-size="8.5" fill="#222" stroke="#222" stroke-width="0.1">Rochefort <tspan letter-spacing="0.45">2015</tspan> DVT</text>
<line x1="136" y1="396.38" x2="139.5" y2="396.38" stroke="#1a1a1a" stroke-width="1.1"/>
<line x1="361.50" y1="396.38" x2="429.30" y2="396.38" stroke="#2a2a2a" stroke-width="1.3"/>
<line x1="361.50" y1="394.23" x2="361.50" y2="398.52" stroke="#2a2a2a" stroke-width="1.3"/>
<line x1="429.30" y1="394.23" x2="429.30" y2="398.52" stroke="#2a2a2a" stroke-width="1.3"/>
<circle cx="399.70" cy="396.38" r="1.6" fill="#173a66"/>
<text transform="translate(133.30 409.71) scale(1 1.08)" text-anchor="end" font-size="8.5" fill="#222" stroke="#222" stroke-width="0.1">Selby <tspan letter-spacing="0.45">2018</tspan> PE</text>
<line x1="136" y1="406.71" x2="139.5" y2="406.71" stroke="#1a1a1a" stroke-width="1.1"/>
<line x1="185.40" y1="406.71" x2="429.20" y2="406.71" stroke="#2a2a2a" stroke-width="1.3"/>
<line x1="185.40" y1="404.56" x2="185.40" y2="408.86" stroke="#2a2a2a" stroke-width="1.3"/>
<line x1="429.20" y1="404.56" x2="429.20" y2="408.86" stroke="#2a2a2a" stroke-width="1.3"/>
<circle cx="339.40" cy="406.71" r="1.6" fill="#173a66"/>
<text transform="translate(133.30 420.04) scale(1 1.08)" text-anchor="end" font-size="8.5" fill="#222" stroke="#222" stroke-width="0.1">Selby <tspan letter-spacing="0.45">2018</tspan> DVT</text>
<line x1="136" y1="417.04" x2="139.5" y2="417.04" stroke="#1a1a1a" stroke-width="1.1"/>
<line x1="185.80" y1="417.04" x2="392.30" y2="417.04" stroke="#2a2a2a" stroke-width="1.3"/>
<line x1="185.80" y1="414.89" x2="185.80" y2="419.19" stroke="#2a2a2a" stroke-width="1.3"/>
<line x1="392.30" y1="414.89" x2="392.30" y2="419.19" stroke="#2a2a2a" stroke-width="1.3"/>
<circle cx="308.30" cy="417.04" r="1.6" fill="#173a66"/>
<text transform="translate(133.75 430.38) scale(1 1.08)" text-anchor="end" font-size="8.5" fill="#222" stroke="#222" stroke-width="0.1">Weikert <tspan letter-spacing="0.45">2020</tspan></text>
<line x1="136" y1="427.38" x2="139.5" y2="427.38" stroke="#1a1a1a" stroke-width="1.1"/>
<line x1="445.60" y1="427.38" x2="491.70" y2="427.38" stroke="#2a2a2a" stroke-width="1.3"/>
<line x1="445.60" y1="425.23" x2="445.60" y2="429.53" stroke="#2a2a2a" stroke-width="1.3"/>
<line x1="491.70" y1="425.23" x2="491.70" y2="429.53" stroke="#2a2a2a" stroke-width="1.3"/>
<circle cx="477.10" cy="427.38" r="1.6" fill="#173a66"/>
<text transform="translate(133.30 440.72) scale(1 1.08)" text-anchor="end" font-size="8.5" fill="#222" stroke="#222" stroke-width="0.1">Wendelboe DVT/PE</text>
<line x1="136" y1="437.72" x2="139.5" y2="437.72" stroke="#1a1a1a" stroke-width="1.1"/>
<line x1="389.80" y1="437.72" x2="420.90" y2="437.72" stroke="#2a2a2a" stroke-width="1.3"/>
<line x1="389.80" y1="435.57" x2="389.80" y2="439.87" stroke="#2a2a2a" stroke-width="1.3"/>
<line x1="420.90" y1="435.57" x2="420.90" y2="439.87" stroke="#2a2a2a" stroke-width="1.3"/>
<circle cx="406.20" cy="437.72" r="1.6" fill="#173a66"/>
<text transform="translate(133.75 451.05) scale(1 1.08)" text-anchor="end" font-size="8.5" fill="#222" stroke="#222" stroke-width="0.1">Yu <tspan letter-spacing="0.45">2014</tspan></text>
<line x1="136" y1="448.05" x2="139.5" y2="448.05" stroke="#1a1a1a" stroke-width="1.1"/>
<line x1="460.80" y1="448.05" x2="476.30" y2="448.05" stroke="#2a2a2a" stroke-width="1.3"/>
<line x1="460.80" y1="445.90" x2="460.80" y2="450.20" stroke="#2a2a2a" stroke-width="1.3"/>
<line x1="476.30" y1="445.90" x2="476.30" y2="450.20" stroke="#2a2a2a" stroke-width="1.3"/>
<circle cx="469.60" cy="448.05" r="1.6" fill="#173a66"/>
<text transform="translate(133.30 468.40) scale(1 1.08)" text-anchor="end" font-size="8.5" fill="#222" stroke="#222" stroke-width="0.1">Pooled PPV</text>
<line x1="136" y1="465.40" x2="139.5" y2="465.40" stroke="#1a1a1a" stroke-width="1.1"/>
<line x1="382.54" y1="465.40" x2="452.27" y2="465.40" stroke="#45627f" stroke-width="1.1"/>
<line x1="382.54" y1="462.40" x2="382.54" y2="468.40" stroke="#22384f" stroke-width="1.3"/>
<line x1="452.27" y1="462.40" x2="452.27" y2="468.40" stroke="#22384f" stroke-width="1.3"/>
<path d="M423.83 462.00 L427.13 465.40 L423.83 468.80 L420.53 465.40 Z" fill="none" stroke="#26568a" stroke-width="1.25"/>
<text x="249.30" y="467.90" fill="#2d5888" stroke="#2d5888" stroke-width="0.05" font-size="8.5"><tspan letter-spacing="0.47">0</tspan>.<tspan letter-spacing="0.47">910</tspan> (<tspan letter-spacing="0.47">95</tspan>% CI, <tspan letter-spacing="0.47">0</tspan>.<tspan letter-spacing="0.47">865</tspan> - <tspan letter-spacing="0.47">0</tspan>.<tspan letter-spacing="0.47">941</tspan>)</text>
<text transform="translate(133.75 485.46) scale(1 1.08)" text-anchor="end" font-size="8.5" fill="#222" stroke="#222" stroke-width="0.1">Banerjee <tspan letter-spacing="0.45">2019</tspan></text>
<line x1="136" y1="482.46" x2="139.5" y2="482.46" stroke="#1a1a1a" stroke-width="1.1"/>
<line x1="469.00" y1="482.46" x2="494.00" y2="482.46" stroke="#2a2a2a" stroke-width="1.3"/>
<line x1="469.00" y1="480.31" x2="469.00" y2="484.61" stroke="#2a2a2a" stroke-width="1.3"/>
<line x1="494.00" y1="480.31" x2="494.00" y2="484.61" stroke="#2a2a2a" stroke-width="1.3"/>
<circle cx="485.40" cy="482.46" r="1.6" fill="#800e34"/>
<text transform="translate(133.30 495.79) scale(1 1.08)" text-anchor="end" font-size="8.5" fill="#222" stroke="#222" stroke-width="0.1">Chen <tspan letter-spacing="0.45">2018</tspan> internal validation</text>
<line x1="136" y1="492.79" x2="139.5" y2="492.79" stroke="#1a1a1a" stroke-width="1.1"/>
<line x1="499.10" y1="492.79" x2="505.40" y2="492.79" stroke="#2a2a2a" stroke-width="1.3"/>
<line x1="499.10" y1="490.64" x2="499.10" y2="494.94" stroke="#2a2a2a" stroke-width="1.3"/>
<line x1="505.40" y1="490.64" x2="505.40" y2="494.94" stroke="#2a2a2a" stroke-width="1.3"/>
<circle cx="503.60" cy="492.79" r="1.6" fill="#800e34"/>
<text transform="translate(133.30 506.13) scale(1 1.08)" text-anchor="end" font-size="8.5" fill="#222" stroke="#222" stroke-width="0.1">Chen <tspan letter-spacing="0.45">2018</tspan> external validation</text>
<line x1="136" y1="503.13" x2="139.5" y2="503.13" stroke="#1a1a1a" stroke-width="1.1"/>
<line x1="466.20" y1="503.13" x2="491.70" y2="503.13" stroke="#2a2a2a" stroke-width="1.3"/>
<line x1="466.20" y1="500.98" x2="466.20" y2="505.28" stroke="#2a2a2a" stroke-width="1.3"/>
<line x1="491.70" y1="500.98" x2="491.70" y2="505.28" stroke="#2a2a2a" stroke-width="1.3"/>
<circle cx="481.50" cy="503.13" r="1.6" fill="#800e34"/>
<text transform="translate(133.75 516.47) scale(1 1.08)" text-anchor="end" font-size="8.5" fill="#222" stroke="#222" stroke-width="0.1">Dantes <tspan letter-spacing="0.45">2018</tspan></text>
<line x1="136" y1="513.47" x2="139.5" y2="513.47" stroke="#1a1a1a" stroke-width="1.1"/>
<line x1="487.30" y1="513.47" x2="503.70" y2="513.47" stroke="#2a2a2a" stroke-width="1.3"/>
<line x1="487.30" y1="511.32" x2="487.30" y2="515.62" stroke="#2a2a2a" stroke-width="1.3"/>
<line x1="503.70" y1="511.32" x2="503.70" y2="515.62" stroke="#2a2a2a" stroke-width="1.3"/>
<circle cx="498.80" cy="513.47" r="1.6" fill="#800e34"/>
<text transform="translate(133.30 526.80) scale(1 1.08)" text-anchor="end" font-size="8.5" fill="#222" stroke="#222" stroke-width="0.1">Rochefort <tspan letter-spacing="0.45">2015</tspan> PE</text>
<line x1="136" y1="523.80" x2="139.5" y2="523.80" stroke="#1a1a1a" stroke-width="1.1"/>
<line x1="483.80" y1="523.80" x2="494.00" y2="523.80" stroke="#2a2a2a" stroke-width="1.3"/>
<line x1="483.80" y1="521.65" x2="483.80" y2="525.95" stroke="#2a2a2a" stroke-width="1.3"/>
<line x1="494.00" y1="521.65" x2="494.00" y2="525.95" stroke="#2a2a2a" stroke-width="1.3"/>
<circle cx="489.60" cy="523.80" r="1.6" fill="#800e34"/>
<text transform="translate(133.30 537.13) scale(1 1.08)" text-anchor="end" font-size="8.5" fill="#222" stroke="#222" stroke-width="0.1">Rochefort <tspan letter-spacing="0.45">2015</tspan> DVT</text>
<line x1="136" y1="534.13" x2="139.5" y2="534.13" stroke="#1a1a1a" stroke-width="1.1"/>
<line x1="462.30" y1="534.13" x2="478.70" y2="534.13" stroke="#2a2a2a" stroke-width="1.3"/>
<line x1="462.30" y1="531.99" x2="462.30" y2="536.28" stroke="#2a2a2a" stroke-width="1.3"/>
<line x1="478.70" y1="531.99" x2="478.70" y2="536.28" stroke="#2a2a2a" stroke-width="1.3"/>
<circle cx="471.30" cy="534.13" r="1.6" fill="#800e34"/>
<text transform="translate(133.30 547.47) scale(1 1.08)" text-anchor="end" font-size="8.5" fill="#222" stroke="#222" stroke-width="0.1">Selby <tspan letter-spacing="0.45">2018</tspan> PE</text>
<line x1="136" y1="544.47" x2="139.5" y2="544.47" stroke="#1a1a1a" stroke-width="1.1"/>
<line x1="488.80" y1="544.47" x2="504.20" y2="544.47" stroke="#2a2a2a" stroke-width="1.3"/>
<line x1="488.80" y1="542.32" x2="488.80" y2="546.62" stroke="#2a2a2a" stroke-width="1.3"/>
<line x1="504.20" y1="542.32" x2="504.20" y2="546.62" stroke="#2a2a2a" stroke-width="1.3"/>
<circle cx="501.20" cy="544.47" r="1.6" fill="#800e34"/>
<text transform="translate(133.30 557.80) scale(1 1.08)" text-anchor="end" font-size="8.5" fill="#222" stroke="#222" stroke-width="0.1">Selby <tspan letter-spacing="0.45">2018</tspan> DVT</text>
<line x1="136" y1="554.80" x2="139.5" y2="554.80" stroke="#1a1a1a" stroke-width="1.1"/>
<line x1="440.20" y1="554.80" x2="490.80" y2="554.80" stroke="#2a2a2a" stroke-width="1.3"/>
<line x1="440.20" y1="552.65" x2="440.20" y2="556.95" stroke="#2a2a2a" stroke-width="1.3"/>
<line x1="490.80" y1="552.65" x2="490.80" y2="556.95" stroke="#2a2a2a" stroke-width="1.3"/>
<circle cx="474.20" cy="554.80" r="1.6" fill="#800e34"/>
<text transform="translate(133.75 568.14) scale(1 1.08)" text-anchor="end" font-size="8.5" fill="#222" stroke="#222" stroke-width="0.1">Weikert <tspan letter-spacing="0.45">2020</tspan></text>
<line x1="136" y1="565.14" x2="139.5" y2="565.14" stroke="#1a1a1a" stroke-width="1.1"/>
<line x1="497.30" y1="565.14" x2="504.60" y2="565.14" stroke="#2a2a2a" stroke-width="1.3"/>
<line x1="497.30" y1="562.99" x2="497.30" y2="567.29" stroke="#2a2a2a" stroke-width="1.3"/>
<line x1="504.60" y1="562.99" x2="504.60" y2="567.29" stroke="#2a2a2a" stroke-width="1.3"/>
<circle cx="503.10" cy="565.14" r="1.6" fill="#800e34"/>
<text transform="translate(133.30 578.48) scale(1 1.08)" text-anchor="end" font-size="8.5" fill="#222" stroke="#222" stroke-width="0.1">Wendelboe DVT/PE</text>
<line x1="136" y1="575.48" x2="139.5" y2="575.48" stroke="#1a1a1a" stroke-width="1.1"/>
<line x1="474.80" y1="575.48" x2="488.30" y2="575.48" stroke="#2a2a2a" stroke-width="1.3"/>
<line x1="474.80" y1="573.33" x2="474.80" y2="577.62" stroke="#2a2a2a" stroke-width="1.3"/>
<line x1="488.30" y1="573.33" x2="488.30" y2="577.62" stroke="#2a2a2a" stroke-width="1.3"/>
<circle cx="481.50" cy="575.48" r="1.6" fill="#800e34"/>
<text transform="translate(133.75 588.81) scale(1 1.08)" text-anchor="end" font-size="8.5" fill="#222" stroke="#222" stroke-width="0.1">Yu <tspan letter-spacing="0.45">2014</tspan></text>
<line x1="136" y1="585.81" x2="139.5" y2="585.81" stroke="#1a1a1a" stroke-width="1.1"/>
<line x1="495.60" y1="585.81" x2="498.80" y2="585.81" stroke="#2a2a2a" stroke-width="1.3"/>
<line x1="495.60" y1="583.66" x2="495.60" y2="587.96" stroke="#2a2a2a" stroke-width="1.3"/>
<line x1="498.80" y1="583.66" x2="498.80" y2="587.96" stroke="#2a2a2a" stroke-width="1.3"/>
<circle cx="497.30" cy="585.81" r="1.6" fill="#800e34"/>
<text transform="translate(133.30 606.30) scale(1 1.08)" text-anchor="end" font-size="8.5" fill="#222" stroke="#222" stroke-width="0.1">Pooled NPV</text>
<line x1="136" y1="603.30" x2="139.5" y2="603.30" stroke="#1a1a1a" stroke-width="1.1"/>
<line x1="485.30" y1="603.30" x2="497.23" y2="603.30" stroke="#d04868" stroke-width="1.6"/>
<line x1="485.30" y1="600.50" x2="485.30" y2="606.10" stroke="#8e2a44" stroke-width="1.3"/>
<line x1="497.23" y1="600.50" x2="497.23" y2="606.10" stroke="#8e2a44" stroke-width="1.3"/>
<path d="M492.64 600.40 L495.24 603.30 L492.64 606.20 L490.04 603.30 Z" fill="#f0a4b4" stroke="#a01838" stroke-width="1.25"/>
<text x="341.00" y="605.80" fill="#c02a4a" stroke="#c02a4a" stroke-width="0.05" font-size="8.5"><tspan letter-spacing="0.38">0</tspan>.<tspan letter-spacing="0.38">985</tspan> (<tspan letter-spacing="0.38">95</tspan>% CI, <tspan letter-spacing="0.38">0</tspan>.<tspan letter-spacing="0.38">977</tspan> - <tspan letter-spacing="0.38">0</tspan>.<tspan letter-spacing="0.38">990</tspan>)</text>
</svg>
</body></html>
